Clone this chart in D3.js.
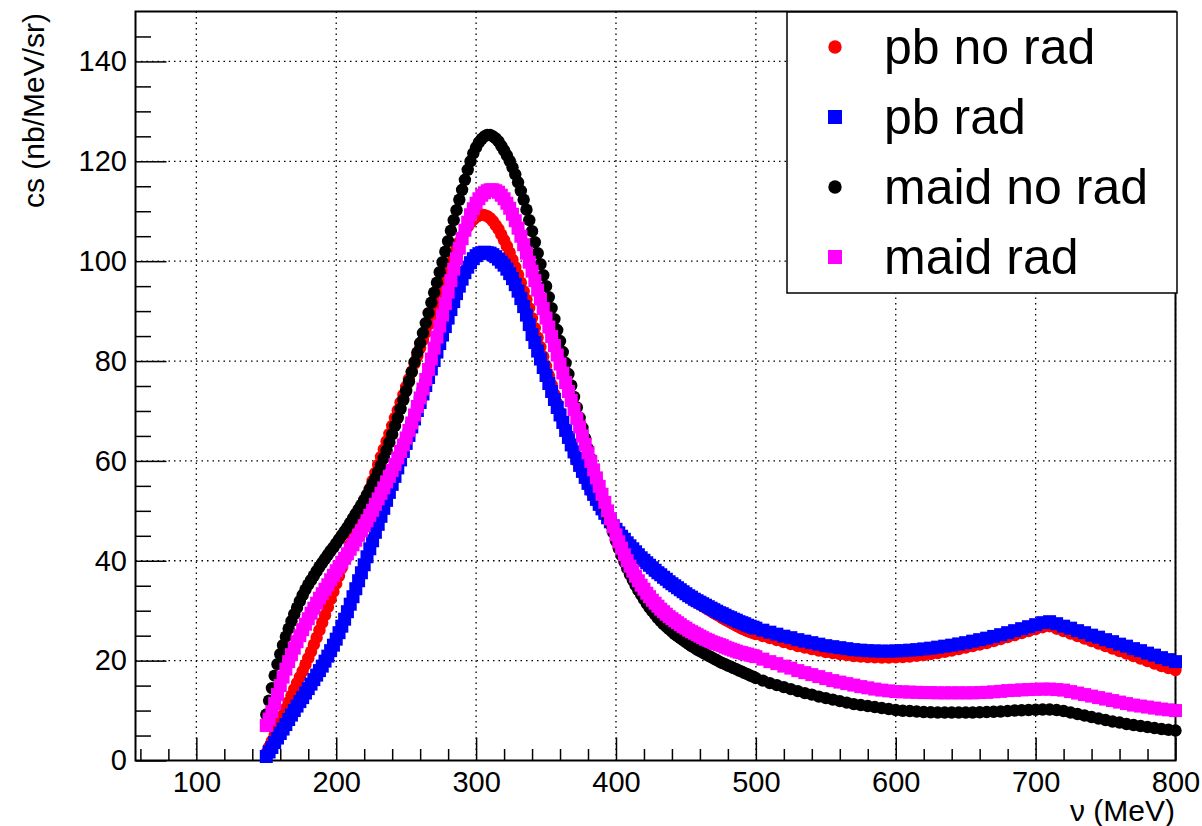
<!DOCTYPE html>
<html>
<head>
<meta charset="utf-8">
<script src="https://cdn.jsdelivr.net/npm/d3@7"></script>
<style>
  body { margin: 0; background: #fff; }
  svg { display: block; }
  text { font-family: "Liberation Sans", Arial, Helvetica, sans-serif; fill: #000; }
</style>
</head>
<body>
<div id="chart"></div>
<script>
// photon energy nu (MeV): every 2 MeV up to 500, then every 5 MeV
var nu = [150,152,154,156,158,160,162,164,166,168,
  170,172,174,176,178,180,182,184,186,188,
  190,192,194,196,198,200,202,204,206,208,
  210,212,214,216,218,220,222,224,226,228,
  230,232,234,236,238,240,242,244,246,248,
  250,252,254,256,258,260,262,264,266,268,
  270,272,274,276,278,280,282,284,286,288,
  290,292,294,296,298,300,302,304,306,308,
  310,312,314,316,318,320,322,324,326,328,
  330,332,334,336,338,340,342,344,346,348,
  350,352,354,356,358,360,362,364,366,368,
  370,372,374,376,378,380,382,384,386,388,
  390,392,394,396,398,400,402,404,406,408,
  410,412,414,416,418,420,422,424,426,428,
  430,432,434,436,438,440,442,444,446,448,
  450,452,454,456,458,460,462,464,466,468,
  470,472,474,476,478,480,482,484,486,488,
  490,492,494,496,498,500,
  505,510,515,520,525,530,535,540,545,550,
  555,560,565,570,575,580,585,590,595,600,
  605,610,615,620,625,630,635,640,645,650,
  655,660,665,670,675,680,685,690,695,700,
  705,710,715,720,725,730,735,740,745,750,
  755,760,765,770,775,780,785,790,795,800];

// cross sections (nb/MeV/sr), same grid as nu
var pbNoRad = [1.5,2.7,3.9,5.1,6.4,7.8,9.1,10.4,11.7,13.0,
  14.3,15.5,16.7,17.9,19.2,20.5,21.8,23.2,24.6,26.1,
  27.6,29.1,30.7,32.3,33.8,35.4,37.0,38.6,40.2,41.7,
  43.3,44.9,46.4,48.0,49.6,51.2,52.8,54.4,56.0,57.6,
  59.2,60.8,62.3,63.9,65.4,67.0,68.6,70.1,71.7,73.2,
  74.8,76.4,77.9,79.5,81.0,82.6,84.2,85.7,87.3,88.8,
  90.4,92.0,93.5,95.1,96.6,98.2,99.7,101.1,102.5,103.8,
  104.9,105.9,106.9,107.7,108.3,108.8,109.1,109.3,109.2,109.0,
  108.6,108.0,107.2,106.4,105.3,104.2,103.0,101.7,100.3,98.8,
  97.3,95.7,94.0,92.3,90.6,88.6,86.6,84.7,82.8,80.9,
  79.0,77.1,75.2,73.3,71.5,69.7,67.9,66.2,64.5,62.9,
  61.4,60.0,58.7,57.5,56.3,55.1,54.0,53.0,52.0,51.0,
  50.1,49.2,48.3,47.5,46.7,46.0,45.3,44.6,44.0,43.3,
  42.7,42.1,41.5,40.9,40.3,39.8,39.3,38.8,38.3,37.8,
  37.3,36.9,36.4,36.0,35.5,35.1,34.7,34.3,33.9,33.5,
  33.1,32.7,32.3,31.9,31.6,31.3,30.9,30.6,30.2,29.9,
  29.5,29.2,28.9,28.5,28.2,27.9,27.6,27.3,27.0,26.7,
  26.4,26.2,25.9,25.7,25.5,25.3,
  24.9,24.5,24.1,23.7,23.3,22.9,22.6,22.3,22.0,21.7,
  21.5,21.3,21.1,20.9,20.8,20.7,20.65,20.6,20.6,20.65,
  20.7,20.8,20.95,21.1,21.3,21.5,21.75,22.0,22.3,22.6,
  22.9,23.2,23.5,23.9,24.3,24.7,25.1,25.5,25.9,26.3,
  26.7,26.9,26.4,25.9,25.4,24.9,24.4,23.9,23.4,22.9,
  22.4,21.9,21.4,20.9,20.4,19.9,19.4,18.9,18.5,18.1];

var pbRad = [0.8,1.7,2.6,3.6,4.5,5.4,6.3,7.2,8.2,9.1,
  10.0,10.9,11.8,12.6,13.5,14.4,15.3,16.2,17.1,18.0,
  18.9,19.9,20.9,22.0,23.1,24.3,25.6,26.9,28.3,29.8,
  31.3,32.8,34.4,36.0,37.6,39.2,40.8,42.4,44.0,45.7,
  47.3,48.9,50.5,52.1,53.7,55.3,56.9,58.6,60.2,61.9,
  63.5,65.1,66.8,68.4,70.1,71.7,73.4,75.1,76.7,78.4,
  80.1,81.8,83.5,85.2,86.9,88.6,90.3,91.9,93.5,95.0,
  96.4,97.7,98.8,99.7,100.5,101.1,101.5,101.7,101.8,101.7,
  101.6,101.3,100.9,100.4,99.8,99.2,98.4,97.5,96.5,95.3,
  94.0,92.5,90.9,89.2,87.3,85.3,83.7,82.0,80.4,78.7,
  77.1,75.5,73.9,72.3,70.7,69.2,67.7,66.1,64.7,63.2,
  61.8,60.5,59.1,57.9,56.7,55.5,54.4,53.3,52.3,51.3,
  50.4,49.5,48.6,47.8,47.0,46.3,45.6,44.9,44.3,43.6,
  43.0,42.4,41.8,41.2,40.6,40.1,39.6,39.1,38.6,38.1,
  37.6,37.2,36.7,36.3,35.8,35.4,35.0,34.6,34.2,33.8,
  33.4,33.0,32.7,32.3,32.0,31.7,31.4,31.1,30.8,30.5,
  30.2,29.9,29.6,29.4,29.1,28.8,28.6,28.3,28.1,27.8,
  27.6,27.4,27.1,26.9,26.7,26.5,
  26.1,25.7,25.3,24.9,24.6,24.2,23.9,23.6,23.3,23.0,
  22.8,22.6,22.4,22.2,22.1,22.0,21.95,21.9,21.9,21.95,
  22.0,22.1,22.2,22.35,22.5,22.7,22.9,23.1,23.35,23.6,
  23.9,24.2,24.5,24.85,25.2,25.6,26.0,26.4,26.8,27.2,
  27.6,27.8,27.4,26.9,26.5,26.0,25.6,25.1,24.7,24.2,
  23.8,23.3,22.9,22.4,22.0,21.5,21.1,20.6,20.2,19.8];

var maidNoRad = [9.2,12.0,14.5,17.0,19.3,21.3,23.1,24.8,26.4,27.9,
  29.3,30.6,31.9,33.1,34.2,35.2,36.1,37.0,37.9,38.8,
  39.6,40.4,41.2,42.0,42.7,43.5,44.3,45.1,45.9,46.7,
  47.6,48.5,49.4,50.3,51.2,52.2,53.2,54.3,55.4,56.5,
  57.8,59.1,60.6,62.1,63.7,65.3,67.0,68.6,70.4,72.2,
  74.0,75.9,77.8,79.8,81.7,83.6,85.6,87.6,89.6,91.7,
  93.7,95.7,97.8,99.8,101.9,104.0,106.1,108.2,110.2,112.3,
  114.3,116.3,118.3,120.0,121.6,122.8,123.8,124.5,125.0,125.3,
  125.3,125.0,124.6,124.0,123.1,122.2,121.2,120.1,118.8,117.4,
  115.8,114.1,112.3,110.3,108.2,106.0,103.8,101.6,99.4,97.2,
  95.0,92.8,90.6,88.4,86.2,84.0,81.8,79.6,77.4,75.1,
  72.8,70.7,68.6,66.6,64.5,62.4,60.4,58.4,56.4,54.5,
  52.6,50.8,49.1,47.4,45.7,44.0,42.5,41.1,39.8,38.5,
  37.3,36.2,35.1,34.1,33.2,32.3,31.4,30.6,29.9,29.2,
  28.5,27.9,27.3,26.8,26.3,25.8,25.3,24.9,24.5,24.1,
  23.7,23.3,22.9,22.6,22.2,21.9,21.6,21.3,21.0,20.7,
  20.4,20.1,19.8,19.5,19.3,19.0,18.8,18.5,18.3,18.0,
  17.8,17.5,17.3,17.0,16.8,16.5,
  16.0,15.5,15.1,14.7,14.3,13.9,13.5,13.2,12.8,12.5,
  12.2,11.9,11.6,11.3,11.1,10.9,10.7,10.5,10.3,10.1,
  9.95,9.9,9.8,9.7,9.65,9.6,9.6,9.6,9.6,9.6,
  9.6,9.65,9.7,9.75,9.8,9.9,10.0,10.05,10.1,10.15,
  10.2,10.2,10.1,9.9,9.6,9.3,9.0,8.7,8.4,8.1,
  7.8,7.6,7.3,7.1,6.9,6.7,6.5,6.3,6.15,6.0];

var maidRad = [7.0,8.3,9.8,11.4,13.2,15.0,16.7,18.3,19.8,21.2,
  22.5,23.8,25.0,26.2,27.3,28.4,29.5,30.5,31.5,32.5,
  33.4,34.3,35.2,36.2,37.1,38.0,38.8,39.7,40.5,41.4,
  42.3,43.2,44.1,45.1,46.0,47.0,48.0,49.1,50.1,51.3,
  52.4,53.5,54.6,55.8,56.9,58.1,59.3,60.6,61.9,63.2,
  64.6,66.1,67.6,69.2,70.9,72.6,74.4,76.3,78.3,80.4,
  82.6,84.8,87.0,89.2,91.5,93.8,96.1,98.4,100.5,102.6,
  104.5,106.2,107.8,109.3,110.5,111.6,112.5,113.2,113.7,114.1,
  114.3,114.3,114.1,113.8,113.2,112.5,111.6,110.6,109.4,108.1,
  106.6,105.0,103.3,101.6,99.8,98.0,96.1,94.2,92.4,90.5,
  88.6,86.8,84.9,83.1,81.2,79.4,77.6,75.7,73.9,72.1,
  70.3,68.5,66.8,65.0,63.3,61.6,59.9,58.2,56.6,54.9,
  53.3,51.7,50.0,48.4,46.8,45.2,43.8,42.5,41.2,40.0,
  38.9,37.9,36.9,36.0,35.1,34.3,33.5,32.8,32.1,31.5,
  30.9,30.3,29.8,29.3,28.8,28.4,28.0,27.6,27.2,26.8,
  26.5,26.1,25.8,25.5,25.2,24.9,24.6,24.3,24.1,23.8,
  23.6,23.4,23.2,23.0,22.7,22.5,22.3,22.1,21.9,21.7,
  21.6,21.4,21.3,21.1,21.0,20.8,
  20.3,19.8,19.4,18.9,18.5,18.0,17.6,17.2,16.8,16.4,
  16.0,15.7,15.4,15.1,14.8,14.55,14.3,14.1,13.95,13.8,
  13.75,13.7,13.65,13.6,13.6,13.55,13.55,13.55,13.55,13.55,
  13.55,13.6,13.65,13.75,13.85,14.0,14.05,14.15,14.2,14.25,
  14.3,14.3,14.2,14.1,13.8,13.5,13.2,12.9,12.6,12.3,
  12.0,11.7,11.4,11.1,10.9,10.7,10.5,10.3,10.15,10.0];

// axis ticks
var xMajor = [100,200,300,400,500,600,700,800];
var xMinor = [60,80,120,140,160,180,220,240,260,280,320,340,360,380,420,440,460,480,
  520,540,560,580,620,640,660,680,720,740,760,780];
var yMajor = [0,20,40,60,80,100,120,140];
var yMinor = [5,10,15,25,30,35,45,50,55,65,70,75,85,90,95,105,110,115,125,130,135,145];

var series = [
  { name: "pb no rad",   values: pbNoRad,   color: "#ff0000", shape: "circle" },
  { name: "pb rad",      values: pbRad,     color: "#0000ff", shape: "square" },
  { name: "maid no rad", values: maidNoRad, color: "#000000", shape: "circle" },
  { name: "maid rad",    values: maidRad,   color: "#ff00ff", shape: "square" }
];

var width = 1202, height = 826;
var frame = { left: 135.5, right: 1175.5, top: 11.5, bottom: 760.5 };

var svg = d3.select("#chart").append("svg")
  .attr("width", width)
  .attr("height", height);

var x = d3.scaleLinear().domain([56.5, 800]).range([frame.left, frame.right]);
var y = d3.scaleLinear().domain([0, 150]).range([frame.bottom, frame.top]);

// dotted grid
svg.append("g").selectAll("line")
  .data(xMajor)
  .enter().append("line")
  .attr("x1", function(d) { return x(d); })
  .attr("x2", function(d) { return x(d); })
  .attr("y1", frame.top)
  .attr("y2", frame.bottom)
  .attr("stroke", "#000")
  .attr("stroke-width", 1.3)
  .attr("stroke-dasharray", "1.5,4");

svg.append("g").selectAll("line")
  .data(yMajor.filter(function(d) { return d > 0; }))
  .enter().append("line")
  .attr("x1", frame.left)
  .attr("x2", frame.right)
  .attr("y1", function(d) { return y(d); })
  .attr("y2", function(d) { return y(d); })
  .attr("stroke", "#000")
  .attr("stroke-width", 1.3)
  .attr("stroke-dasharray", "1.5,4");

// axes with inward ticks
svg.append("g")
  .attr("transform", "translate(0," + frame.bottom + ")")
  .call(d3.axisBottom(x).tickValues(xMajor).tickSize(-23).tickPadding(11).tickFormat(d3.format("d")));
svg.append("g")
  .attr("transform", "translate(0," + frame.bottom + ")")
  .call(d3.axisBottom(x).tickValues(xMinor).tickSize(-11.5).tickFormat(""));

svg.append("g")
  .attr("transform", "translate(" + frame.left + ",0)")
  .call(d3.axisLeft(y).tickValues(yMajor).tickSize(-31).tickPadding(8.5).tickFormat(d3.format("d")));
svg.append("g")
  .attr("transform", "translate(" + frame.left + ",0)")
  .call(d3.axisLeft(y).tickValues(yMinor).tickSize(-15.5).tickFormat(""));

svg.selectAll(".domain").remove();
svg.selectAll(".tick line").attr("stroke", "#000").attr("stroke-width", 1.5);
svg.selectAll(".tick text")
  .style("font-size", "29px")
  .style("font-family", "'Liberation Sans', Arial, Helvetica, sans-serif")
  .attr("fill", "#000");

// frame
svg.append("rect")
  .attr("x", frame.left)
  .attr("y", frame.top)
  .attr("width", frame.right - frame.left)
  .attr("height", frame.bottom - frame.top)
  .attr("fill", "none")
  .attr("stroke", "#000")
  .attr("stroke-width", 2);

// markers
var circleR = 6.2, squareS = 13;
series.forEach(function(s) {
  var pts = nu.map(function(v, i) { return { x: v, y: s.values[i] }; });
  var g = svg.append("g").attr("fill", s.color);
  if (s.shape === "circle") {
    g.selectAll("circle")
      .data(pts)
      .enter().append("circle")
      .attr("cx", function(d) { return x(d.x); })
      .attr("cy", function(d) { return y(d.y); })
      .attr("r", circleR);
  } else {
    g.selectAll("rect")
      .data(pts)
      .enter().append("rect")
      .attr("x", function(d) { return x(d.x) - squareS / 2; })
      .attr("y", function(d) { return y(d.y) - squareS / 2; })
      .attr("width", squareS)
      .attr("height", squareS);
  }
});

// axis titles
svg.append("text")
  .attr("transform", "translate(44,13) rotate(-90)")
  .style("text-anchor", "end")
  .style("font-size", "30px")
  .text("cs (nb/MeV/sr)");

svg.append("text")
  .attr("x", 1175)
  .attr("y", 821)
  .style("text-anchor", "end")
  .style("font-size", "30px")
  .text("\u03bd (MeV)");

// legend
var legend = svg.append("g");
legend.append("rect")
  .attr("x", 787)
  .attr("y", 12)
  .attr("width", 390)
  .attr("height", 281)
  .attr("fill", "#fff")
  .attr("stroke", "#000")
  .attr("stroke-width", 1.5);

var rowY = [47, 117, 187, 257];
series.forEach(function(s, i) {
  if (s.shape === "circle") {
    legend.append("circle")
      .attr("cx", 835).attr("cy", rowY[i]).attr("r", 6.7)
      .attr("fill", s.color);
  } else {
    legend.append("rect")
      .attr("x", 828).attr("y", rowY[i] - 7).attr("width", 14).attr("height", 14)
      .attr("fill", s.color);
  }
  legend.append("text")
    .attr("x", 884)
    .attr("y", rowY[i] + 17)
    .style("font-size", "50px")
    .text(s.name);
});
</script>
</body>
</html>
